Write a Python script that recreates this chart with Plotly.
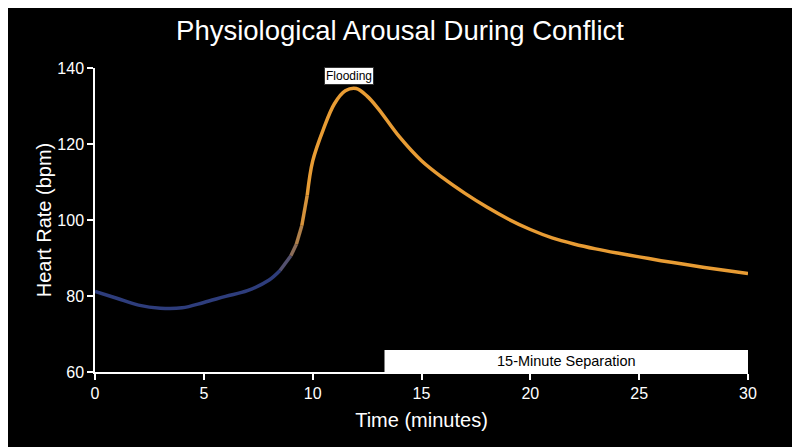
import plotly.graph_objects as go

# ---- data ----
time_min = [0, 1, 2, 3, 4, 5, 6, 7, 8, 8.5, 9, 9.25, 9.5, 9.75, 10, 10.5, 11, 11.5, 12, 12.5, 13,
            14, 15, 16, 17, 18, 19, 20, 21, 22, 23, 24, 25, 26, 27, 28, 29, 30]
heart_rate = [81.2, 79.4, 77.6, 76.8, 76.9, 78.3, 79.9, 81.4, 84.2, 86.7, 90.6, 93.6, 98.5, 106.5,
              115.5, 124.0, 130.6, 134.0, 134.6, 132.6, 129.4,
              121.8, 115.6, 111.0, 107.0, 103.4, 100.2, 97.5, 95.3, 93.7, 92.4, 91.3, 90.3, 89.3,
              88.4, 87.5, 86.7, 85.9]
peak_label = "Flooding"
peak_label_pos = (11.65, 138.0)
separation_label = "15-Minute Separation"
separation_start = 13.3
separation_end = 30
separation_band = (60, 65.8)

x_ticks = [0, 5, 10, 15, 20, 25, 30]
y_ticks = [60, 80, 100, 120, 140]

# ---- style ----
BLUE = (46, 61, 124)
ORANGE = (232, 156, 52)
GRAD_START, GRAD_END = 8.5, 9.75
LW = 3.5
FONT = "Liberation Sans, Arial, Helvetica, sans-serif"


def blend(t):
    f = (t - GRAD_START) / (GRAD_END - GRAD_START)
    f = max(0.0, min(1.0, f))
    c = [round(BLUE[i] + (ORANGE[i] - BLUE[i]) * f) for i in range(3)]
    return f"rgb({c[0]},{c[1]},{c[2]})"


fig = go.Figure()

# blue part
bx = [t for t in time_min if t <= GRAD_START]
by = [h for t, h in zip(time_min, heart_rate) if t <= GRAD_START]
fig.add_trace(go.Scatter(x=bx, y=by, mode="lines",
                         line=dict(color=blend(0), width=LW, shape="spline"),
                         hoverinfo="skip", showlegend=False))
# transition segments
for i in range(len(time_min) - 1):
    t0, t1 = time_min[i], time_min[i + 1]
    if t0 >= GRAD_START and t1 <= GRAD_END:
        fig.add_trace(go.Scatter(x=[t0, t1], y=[heart_rate[i], heart_rate[i + 1]], mode="lines",
                                 line=dict(color=blend((t0 + t1) / 2), width=LW),
                                 hoverinfo="skip", showlegend=False))
# orange part
ox = [t for t in time_min if t >= GRAD_END]
oy = [h for t, h in zip(time_min, heart_rate) if t >= GRAD_END]
fig.add_trace(go.Scatter(x=ox, y=oy, mode="lines",
                         line=dict(color=blend(100), width=LW, shape="spline"),
                         hoverinfo="skip", showlegend=False))

# separation band
fig.add_shape(type="rect", x0=separation_start, x1=separation_end,
              y0=separation_band[0], y1=separation_band[1],
              fillcolor="white", line=dict(color="white", width=0), layer="above")
fig.add_annotation(x=(separation_start + separation_end) / 2,
                   y=(separation_band[0] + separation_band[1]) / 2,
                   text=separation_label, showarrow=False,
                   font=dict(family=FONT, size=14.5, color="black"))

# flooding label
fig.add_annotation(x=peak_label_pos[0], y=peak_label_pos[1], text=peak_label, showarrow=False,
                   font=dict(family=FONT, size=12, color="black"),
                   bgcolor="white", bordercolor="#333333", borderwidth=1, borderpad=1)

fig.update_layout(
    width=800, height=447,
    paper_bgcolor="black", plot_bgcolor="black",
    margin=dict(l=87, r=60, t=60, b=83),
    title=dict(text="Physiological Arousal During Conflict", x=0.49, xanchor="center",
               y=0.951, yanchor="middle",
               font=dict(family=FONT, size=27.5, color="white")),
    font=dict(family=FONT, color="white"),
    xaxis=dict(range=[0, 30], tickvals=x_ticks, showgrid=False, zeroline=False,
               showline=True, linecolor="white", linewidth=1.5,
               ticks="outside", tickcolor="white", ticklen=6, tickwidth=1.5,
               tickfont=dict(size=16, color="white"),
               title=dict(text="Time (minutes)", font=dict(size=20, color="white"), standoff=12)),
    yaxis=dict(range=[60, 140], tickvals=y_ticks, showgrid=False, zeroline=False,
               showline=True, linecolor="white", linewidth=1.5,
               ticks="outside", tickcolor="white", ticklen=6, tickwidth=1.5,
               tickfont=dict(size=16, color="white"),
               title=dict(text="Heart Rate (bpm)", font=dict(size=20, color="white"), standoff=0)),
)

fig.write_html("out.html")
